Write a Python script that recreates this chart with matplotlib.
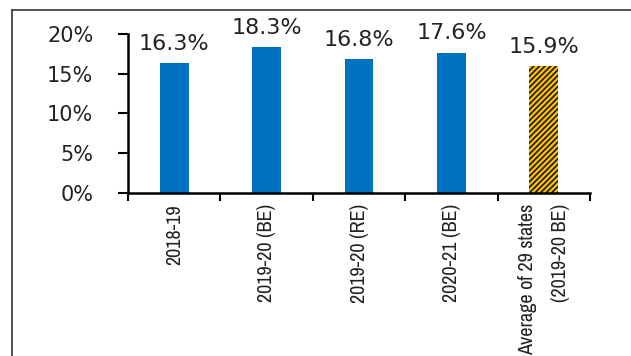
import matplotlib.pyplot as plt
from matplotlib.lines import Line2D
from matplotlib.ticker import FuncFormatter

# Share of spending, by year
categories = ["2018-19", "2019-20 (BE)", "2019-20 (RE)", "2020-21 (BE)",
              "Average of 29 states\n(2019-20 BE)"]
values = [16.3, 18.3, 16.8, 17.6, 15.9]
bar_colors = ["#0070C0", "#0070C0", "#0070C0", "#0070C0", "#FFC000"]
hatches = ["", "", "", "", "//////"]

plt.rcParams["font.family"] = ["DejaVu Sans"]
plt.rcParams["hatch.linewidth"] = 1.2

fig = plt.figure(figsize=(6.31, 3.56), dpi=100)
ax = fig.add_axes([0.203, 0.458, 0.732, 0.447])

x = range(len(categories))
bars = ax.bar(x, values, width=0.31, color=bar_colors, edgecolor="none", zorder=2)
for bar, h in zip(bars, hatches):
    if h:
        bar.set_hatch(h)
        bar.set_edgecolor("#1a1a1a")
        bar.set_linewidth(0)

# value labels above bars
for xi, v in zip(x, values):
    ax.annotate(f"{v:.1f}%", (xi, v), xytext=(0, 7), textcoords="offset points",
                ha="center", va="bottom", fontsize=16, color="#222222")

ax.set_xlim(-0.5, 4.5)
ax.set_ylim(0, 20)
ax.set_yticks([0, 5, 10, 15, 20])
ax.yaxis.set_major_formatter(FuncFormatter(lambda v, p: f"{v:.0f}%"))
ax.tick_params(axis="y", direction="out", length=7, width=1.5, pad=18,
               labelsize=15, labelcolor="#222222")

# category ticks sit on the boundaries between bars
ax.set_xticks([i - 0.5 for i in range(len(categories) + 1)])
ax.set_xticklabels([])
ax.tick_params(axis="x", which="major", direction="out", length=6, width=1.5)
ax.set_xticks(list(x), minor=True)
ax.set_xticklabels(categories, minor=True, rotation=90, va="top", ha="center",
                   multialignment="right", linespacing=1.9,
                   family=["Liberation Sans Narrow", "Archivo Narrow",
                           "Liberation Sans", "DejaVu Sans"],
                   fontsize=14.5, color="#222222")
ax.tick_params(axis="x", which="minor", length=0, pad=8)

for side in ["top", "right"]:
    ax.spines[side].set_visible(False)
for side in ["left", "bottom"]:
    ax.spines[side].set_linewidth(1.8)
    ax.spines[side].set_color("black")

# outer frame lines
fig.add_artist(Line2D([12 / 631, 1], [1 - 10 / 356] * 2, color="#333333", lw=1.2,
                      transform=fig.transFigure))
fig.add_artist(Line2D([12 / 631] * 2, [0, 1 - 10 / 356], color="#333333", lw=1.2,
                      transform=fig.transFigure))

fig.savefig("out.png", dpi=100)
